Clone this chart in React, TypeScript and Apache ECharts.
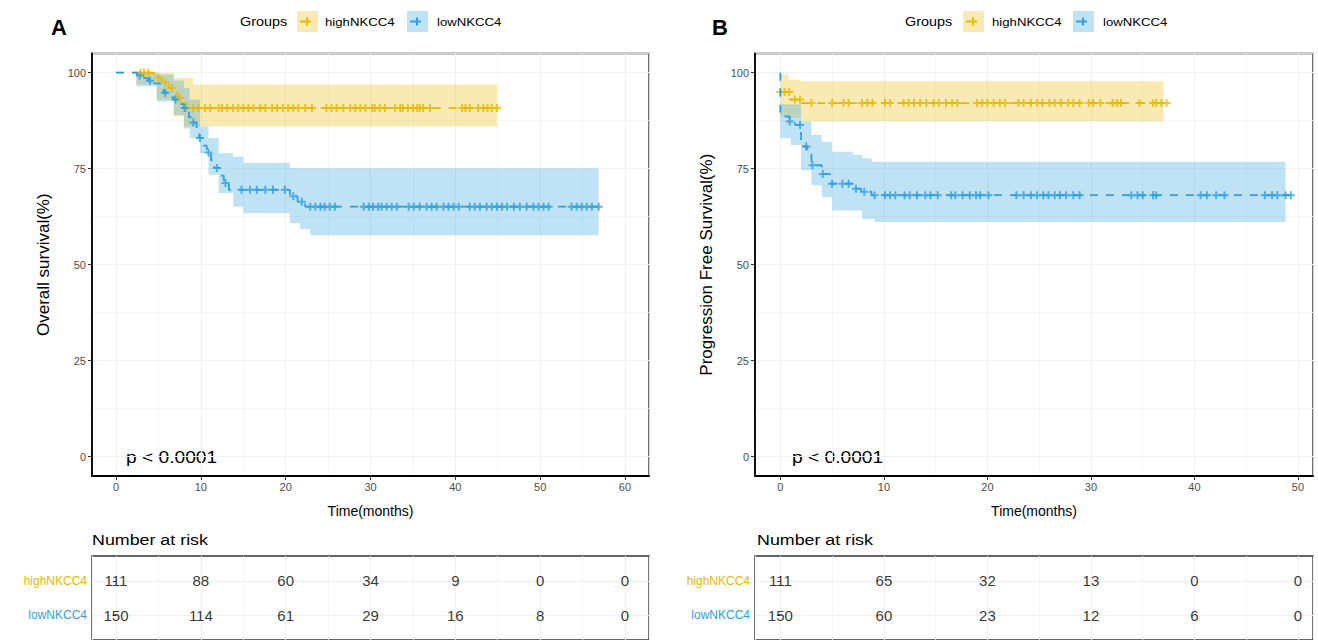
import React, { useEffect, useRef } from 'react';
import * as echarts from 'echarts';

const GOLD = '#E7B800';
const BLUE = '#2E9FDF';
const GOLD_FILL = 'rgba(231,184,0,0.3)';
const BLUE_FILL = 'rgba(46,159,223,0.3)';
const FONT = '"Liberation Sans", Arial, Helvetica, sans-serif';

const groups = ['highNKCC4', 'lowNKCC4'];

// ---------- Panel A : Overall survival ----------
const ticksA = [0, 10, 20, 30, 40, 50, 60];
const riskHighA = [111, 88, 60, 34, 9, 0, 0];
const riskLowA = [150, 114, 61, 29, 16, 8, 0];

const osHighSteps = [[0, 100], [4.5, 98.7], [5.4, 97.4], [6.2, 96.0], [6.8, 94.7], [7.3, 93.4], [7.8, 92.1], [8.3, 90.8]];
const osHighEnd = 45.0;
const osHighBand = [[0, 100, 100], [2.4, 100, 97], [4.8, 100, 93], [6.8, 98.6, 88.6], [8.0, 98.6, 86.0], [9.1, 96.9, 86.0]];
const osHighBandEnd = 44.9;
const osHighCens = [2.9, 3.3, 3.8, 5.0, 5.8, 6.6, 7.5, 8.3, 9.1, 9.7, 10.5, 11.1, 12.1, 12.5, 13.1, 13.8, 14.4, 15.0, 15.6, 16.2, 17.0, 17.6, 18.4, 19.0, 19.7, 20.3, 20.9, 21.5, 22.3, 23.1, 24.8, 25.4, 26.0, 26.8, 27.6, 28.2, 28.8, 29.4, 30.2, 30.5, 31.1, 31.7, 32.9, 33.5, 33.8, 34.4, 35.0, 35.5, 35.8, 36.2, 37.0, 40.8, 41.2, 41.7, 42.7, 43.3, 43.8, 44.3, 44.9];

const osLowSteps = [[0, 100], [2.5, 99.3], [3.3, 98.6], [3.8, 97.9], [4.5, 97.2], [5.2, 96.0], [5.6, 94.8], [6.4, 93.6], [6.8, 93.0], [7.5, 91.8], [8.0, 90.8], [8.6, 88.4], [9.0, 87.0], [9.5, 85.0], [9.8, 83.0], [10.3, 81.0], [10.7, 79.2], [11.2, 77.2], [11.6, 75.2], [12.3, 73.2], [12.7, 71.3], [13.3, 69.5], [20.5, 67.8], [21.4, 66.4], [22.3, 65.1]];
const osLowEnd = 57.1;
const osLowBand = [[0, 100, 100], [2.4, 100, 96.5], [4.8, 99.5, 92.5], [6.8, 98, 89], [8.0, 96, 85.5], [8.7, 93, 83], [9.9, 86, 79], [10.9, 83, 73.4], [12.1, 79, 68.7], [13.8, 78.1, 65.1], [15.0, 76.5, 63.4], [20.5, 75.2, 60.8], [21.7, 75.1, 59.2], [22.9, 75.1, 57.7]];
const osLowBandEnd = 56.9;
const osLowCens = [2.8, 4.0, 5.8, 7.0, 8.1, 9.1, 9.9, 10.9, 11.9, 12.9, 14.8, 15.8, 16.6, 17.6, 18.5, 19.9, 20.9, 21.9, 22.9, 23.5, 24.1, 24.6, 25.2, 25.8, 29.2, 29.8, 30.3, 30.9, 31.3, 31.9, 32.5, 33.1, 34.5, 35.1, 35.8, 36.6, 37.2, 37.8, 38.6, 39.2, 39.8, 40.4, 41.7, 42.3, 42.9, 43.7, 44.3, 44.9, 45.5, 46.1, 46.9, 47.6, 48.4, 49.2, 49.8, 50.4, 51.0, 53.7, 54.3, 54.9, 55.5, 56.1, 56.9];

// ---------- Panel B : Progression free survival ----------
const ticksB = [0, 10, 20, 30, 40, 50];
const riskHighB = [111, 65, 32, 13, 0, 0];
const riskLowB = [150, 60, 23, 12, 6, 0];

const pfsHighSteps = [[0, 95.0], [0.9, 93.0], [2.0, 92.1]];
const pfsHighEnd = 37.3;
const pfsHighBand = [[0, 99.5, 88.5], [0.8, 98.2, 88.2], [2.0, 97.8, 87.3]];
const pfsHighBandEnd = 37.0;
const pfsHighCens = [0, 0.4, 0.85, 1.4, 1.9, 3.0, 5.0, 6.1, 6.6, 7.9, 8.4, 8.9, 10.1, 10.6, 11.9, 12.4, 12.9, 13.5, 14.1, 14.8, 15.3, 16.0, 16.6, 17.1, 19.0, 19.5, 20.0, 20.6, 21.2, 21.7, 23.0, 23.5, 24.2, 24.8, 25.3, 26.0, 26.5, 27.1, 27.8, 28.3, 28.9, 29.8, 30.2, 30.9, 32.1, 32.5, 32.9, 34.7, 36.0, 36.3, 36.8, 37.3];

const pfsLowSteps = [[0, 100], [0, 88.6], [0.9, 87.3], [1.4, 86.4], [2.0, 80.8], [2.6, 79.5], [3.0, 75.9], [4.0, 73.6], [4.8, 71.1], [7.1, 69.8], [7.8, 69.0], [8.8, 68.1]];
const pfsLowEnd = 49.4;
const pfsLowBand = [[0, 91.7, 82.9], [1.0, 91.7, 81.2], [2.0, 87.3, 74.6], [3.0, 83.8, 70.7], [4.0, 82.0, 67.6], [5.0, 79.4, 64.1], [7.0, 78.6, 64.1], [7.9, 77.7, 61.9], [8.8, 76.8, 61.9], [9.1, 76.8, 61.1]];
const pfsLowBandEnd = 48.8;
const pfsLowCens = [0.9, 1.9, 2.5, 3.1, 4.1, 5.0, 6.0, 6.6, 7.3, 8.1, 9.1, 10.1, 10.6, 11.1, 12.0, 12.5, 13.2, 14.0, 14.5, 15.2, 16.5, 16.9, 17.6, 18.3, 18.9, 19.3, 20.1, 22.8, 23.5, 24.2, 24.8, 25.4, 25.9, 26.5, 27.0, 27.6, 28.3, 28.9, 33.9, 34.5, 35.0, 36.0, 36.3, 40.6, 41.2, 42.1, 42.9, 46.8, 47.5, 48.0, 48.8, 49.3];

// ---------- helpers ----------
function survAt(steps: number[][], t: number): number {
  let v = steps[0][1];
  for (const s of steps) {
    if (s[0] <= t) v = s[1];
    else break;
  }
  return v;
}

function bandSeries(band: number[][], end: number, fill: string, xi: number, yi: number) {
  return {
    type: 'custom',
    xAxisIndex: xi,
    yAxisIndex: yi,
    silent: true,
    data: [[band[0][0], band[0][1]]],
    renderItem: (_p: any, api: any) => {
      const up: number[][] = [];
      const lo: number[][] = [];
      for (let i = 0; i < band.length; i++) {
        const t0 = band[i][0];
        const t1 = i + 1 < band.length ? band[i + 1][0] : end;
        up.push(api.coord([t0, band[i][1]]), api.coord([t1, band[i][1]]));
        lo.push(api.coord([t0, band[i][2]]), api.coord([t1, band[i][2]]));
      }
      return { type: 'polygon', shape: { points: up.concat(lo.reverse()) }, style: { fill } };
    },
  };
}

function lineSeries(name: string, steps: number[][], end: number, color: string, xi: number, yi: number) {
  return {
    type: 'line',
    name,
    xAxisIndex: xi,
    yAxisIndex: yi,
    step: 'end',
    showSymbol: false,
    silent: true,
    lineStyle: { color, width: 1.8, type: [8, 8] },
    data: steps.concat([[end, steps[steps.length - 1][1]]]),
  };
}

const PLUS = 'path://M0,5L10,5M5,0L5,10';

function censSeries(steps: number[][], times: number[], color: string, xi: number, yi: number) {
  return {
    type: 'scatter',
    xAxisIndex: xi,
    yAxisIndex: yi,
    silent: true,
    symbol: PLUS,
    symbolSize: [8, 8],
    itemStyle: { color: 'rgba(0,0,0,0)', borderColor: color, borderWidth: 2 },
    data: times.map((t) => [t, survAt(steps, t)]),
  };
}

function riskSeries(ticks: number[], counts: number[], row: number, xi: number, yi: number) {
  return {
    type: 'scatter',
    xAxisIndex: xi,
    yAxisIndex: yi,
    silent: true,
    symbolSize: 1,
    itemStyle: { color: 'rgba(0,0,0,0)' },
    label: {
      show: true,
      position: 'inside',
      formatter: (p: any) => String(p.value[2]),
      color: '#000',
      fontSize: 15,
      fontFamily: FONT,
    },
    data: ticks.map((t, i) => [t, row, counts[i]]),
  };
}

interface Panel {
  left: number;
  width: number;
  xMin: number;
  xMax: number;
  yTitle: string;
  yTitleSize: number;
  ticks: number[];
  hi: { steps: number[][]; end: number; band: number[][]; bandEnd: number; cens: number[] };
  lo: { steps: number[][]; end: number; band: number[][]; bandEnd: number; cens: number[] };
  riskHigh: number[];
  riskLow: number[];
}

const PLOT_TOP = 53.5;
const PLOT_H = 422.4;
const TAB_TOP = 556;
const TAB_H = 91;

function buildPanel(p: Panel, gi: number, xi: number, yi: number) {
  const grid = [
    { left: p.left, top: PLOT_TOP, width: p.width, height: PLOT_H, show: true, borderColor: '#333', borderWidth: 1.4, backgroundColor: '#fff' },
    { left: p.left, top: TAB_TOP, width: p.width, height: TAB_H, show: true, borderColor: '#333', borderWidth: 1.4, backgroundColor: '#fff' },
  ];
  const hidden = { axisLine: { show: false }, axisTick: { show: false }, axisLabel: { show: false } };
  const xAxis = [
    {
      type: 'value', gridIndex: gi, min: p.xMin, max: p.xMax, minInterval: 10, maxInterval: 10,
      axisLine: { show: true, onZero: false, lineStyle: { color: '#000', width: 1.8 } },
      axisTick: { show: true, length: 4, customValues: p.ticks, lineStyle: { color: '#333' } },
      axisLabel: { showMinLabel: false, showMaxLabel: false, color: '#4D4D4D', fontSize: 11, margin: 6, fontFamily: FONT },
      splitLine: { show: true, lineStyle: { color: '#EBEBEB', width: 1.1 } },
      name: 'Time(months)', nameLocation: 'middle', nameGap: 28,
      nameTextStyle: { color: '#000', fontSize: 14, fontFamily: FONT },
    },
    {
      type: 'value', gridIndex: gi, min: p.xMin, max: p.xMax, minInterval: 5, maxInterval: 5, ...hidden,
      splitLine: { show: true, lineStyle: { color: '#F2F2F2', width: 0.8 } },
    },
    {
      type: 'value', gridIndex: gi + 1, min: p.xMin, max: p.xMax, minInterval: 10, maxInterval: 10, ...hidden,
      splitLine: { show: true, lineStyle: { color: '#EBEBEB', width: 1.1 } },
    },
    {
      type: 'value', gridIndex: gi + 1, min: p.xMin, max: p.xMax, minInterval: 5, maxInterval: 5, ...hidden,
      splitLine: { show: true, lineStyle: { color: '#F2F2F2', width: 0.8 } },
    },
  ];
  const yAxis = [
    {
      type: 'value', gridIndex: gi, min: -5, max: 105, minInterval: 25, maxInterval: 25,
      axisLine: { show: true, onZero: false, lineStyle: { color: '#000', width: 1.8 } },
      axisTick: { show: true, length: 4, customValues: [0, 25, 50, 75, 100], lineStyle: { color: '#333' } },
      axisLabel: { showMinLabel: false, showMaxLabel: false, color: '#4D4D4D', fontSize: 11, margin: 6, fontFamily: FONT },
      splitLine: { show: true, lineStyle: { color: '#EBEBEB', width: 1.1 } },
      name: p.yTitle, nameLocation: 'middle', nameGap: 40, nameRotate: 90,
      nameTextStyle: { color: '#000', fontSize: p.yTitleSize, fontFamily: FONT },
    },
    {
      type: 'value', gridIndex: gi, min: -5, max: 105, minInterval: 12.5, maxInterval: 12.5, ...hidden,
      splitLine: { show: true, lineStyle: { color: '#F2F2F2', width: 0.8 } },
    },
    {
      type: 'value', gridIndex: gi + 1, min: 0.27, max: 2.73, minInterval: 1, maxInterval: 1,
      axisLine: { show: false },
      axisTick: { show: true, length: 3, customValues: [1, 2], lineStyle: { color: '#333' } },
      axisLabel: {
        show: true, margin: 5, showMinLabel: false, showMaxLabel: false,
        formatter: (v: number) => (v === 2 ? '{h|' + groups[0] + '}' : v === 1 ? '{l|' + groups[1] + '}' : ''),
        rich: {
          h: { color: GOLD, fontSize: 12, fontFamily: FONT },
          l: { color: BLUE, fontSize: 12, fontFamily: FONT },
        },
      },
      splitLine: { show: true, lineStyle: { color: '#EFEFEF', width: 1 } },
    },
  ];
  const series = [
    bandSeries(p.hi.band, p.hi.bandEnd, GOLD_FILL, xi, yi),
    bandSeries(p.lo.band, p.lo.bandEnd, BLUE_FILL, xi, yi),
    lineSeries(groups[0], p.hi.steps, p.hi.end, GOLD, xi, yi),
    lineSeries(groups[1], p.lo.steps, p.lo.end, BLUE, xi, yi),
    censSeries(p.hi.steps, p.hi.cens, GOLD, xi, yi),
    censSeries(p.lo.steps, p.lo.cens, BLUE, xi, yi),
    riskSeries(p.ticks, p.riskHigh, 2, xi + 2, yi + 2),
    riskSeries(p.ticks, p.riskLow, 1, xi + 2, yi + 2),
  ];
  return { grid, xAxis, yAxis, series };
}

function textEl(text: string, x: number, y: number, size: number, opts: any = {}) {
  return {
    type: 'text', x, y, scaleX: opts.scaleX ?? 1, silent: true,
    style: {
      text, fill: opts.fill ?? '#000', fontSize: size, fontFamily: FONT,
      fontWeight: opts.bold ? 'bold' : 'normal', align: opts.align ?? 'left', verticalAlign: 'middle',
    },
  };
}

function legendEls(letter: string, letterX: number, gx: number, k1: number, t1: number, k2: number, t2: number) {
  const key = (x: number, fill: string, color: string) => [
    { type: 'rect', silent: true, shape: { x, y: 11, width: 21, height: 21 }, style: { fill } },
    { type: 'line', silent: true, shape: { x1: x + 3, y1: 21.5, x2: x + 14, y2: 21.5 }, style: { stroke: color, lineWidth: 2 } },
    { type: 'line', silent: true, shape: { x1: x + 10, y1: 17.5, x2: x + 10, y2: 25.5 }, style: { stroke: color, lineWidth: 2 } },
  ];
  return [
    textEl(letter, letterX, 27, 22, { bold: true }),
    textEl('Groups', gx, 22, 12, { scaleX: 1.2 }),
    ...key(k1, GOLD_FILL, GOLD),
    textEl(groups[0], t1, 22, 11, { scaleX: 1.2 }),
    ...key(k2, BLUE_FILL, BLUE),
    textEl(groups[1], t2, 22, 11, { scaleX: 1.2 }),
  ];
}

export default function App() {
  const ref = useRef<HTMLDivElement>(null);
  useEffect(() => {
    if (!ref.current) return;
    const chart = echarts.init(ref.current, undefined, { renderer: 'svg' });
    const A = buildPanel({
      left: 92, width: 557, xMin: -2.83, xMax: 62.83, yTitle: 'Overall survival(%)', yTitleSize: 17, ticks: ticksA,
      hi: { steps: osHighSteps, end: osHighEnd, band: osHighBand, bandEnd: osHighBandEnd, cens: osHighCens },
      lo: { steps: osLowSteps, end: osLowEnd, band: osLowBand, bandEnd: osLowBandEnd, cens: osLowCens },
      riskHigh: riskHighA, riskLow: riskLowA,
    }, 0, 0, 0);
    const B = buildPanel({
      left: 755, width: 558, xMin: -2.45, xMax: 51.45, yTitle: 'Progression Free Survival(%)', yTitleSize: 17, ticks: ticksB,
      hi: { steps: pfsHighSteps, end: pfsHighEnd, band: pfsHighBand, bandEnd: pfsHighBandEnd, cens: pfsHighCens },
      lo: { steps: pfsLowSteps, end: pfsLowEnd, band: pfsLowBand, bandEnd: pfsLowBandEnd, cens: pfsLowCens },
      riskHigh: riskHighB, riskLow: riskLowB,
    }, 2, 4, 3);
    chart.setOption({
      animation: false,
      backgroundColor: '#fff',
      grid: [...A.grid, ...B.grid],
      xAxis: [...A.xAxis, ...B.xAxis],
      yAxis: [...A.yAxis, ...B.yAxis],
      series: [...A.series, ...B.series],
      graphic: [
        ...legendEls('A', 51, 240, 297, 325, 407, 437),
        ...legendEls('B', 712, 905, 963, 992, 1073, 1103),
        textEl('p < 0.0001', 126, 458, 16, { scaleX: 1.2 }),
        textEl('p < 0.0001', 792, 458, 16, { scaleX: 1.2 }),
        textEl('Number at risk', 92, 540, 15, { scaleX: 1.19 }),
        textEl('Number at risk', 757, 540, 15, { scaleX: 1.19 }),
      ],
    });
    return () => chart.dispose();
  }, []);
  return <div ref={ref} style={{ position: 'fixed', left: 0, top: 0, width: 1318, height: 640, background: '#fff' }} />;
}
